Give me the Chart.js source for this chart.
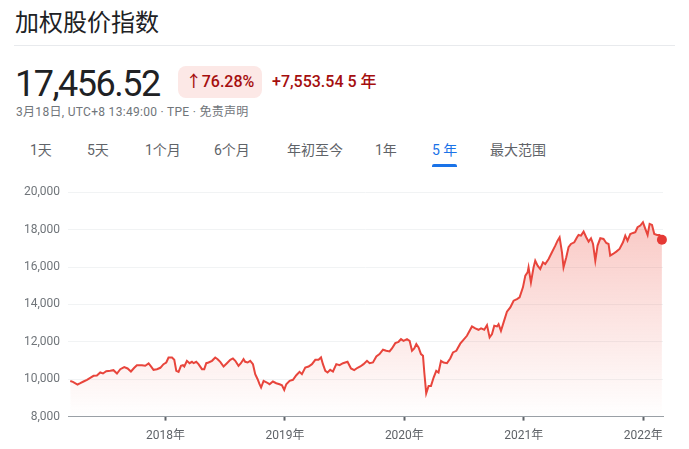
<!DOCTYPE html>
<html>
<head>
<meta charset="utf-8">
<script src="https://cdn.jsdelivr.net/npm/chart.js@4"></script>
<style>
  html, body { margin:0; padding:0; background:#fff; width:689px; height:449px; overflow:hidden; }
  body { font-family: Roboto, "Noto Sans CJK SC", sans-serif; position:relative; }
  .abs { position:absolute; white-space:nowrap; }
  #title { left:15px; top:9px; font-size:24px; line-height:24px; color:#202124; font-family:"Noto Sans CJK SC", sans-serif; }
  #divider { left:14px; top:45px; width:661px; height:1px; background:#e8eaed; }
  #price { left:15px; top:66px; font-size:36px; line-height:36px; color:#202124; letter-spacing:-1.5px; }
  #badge { left:178px; top:66px; width:84px; height:32px; border-radius:8px; background:#fce8e6; color:#a50e0e;
           font-size:16px; line-height:32px; text-align:center; font-weight:500; }
  #change { left:272px; top:72px; font-size:16px; line-height:20px; color:#a50e0e; font-weight:500; }
  #sub { left:16px; top:105px; font-size:12px; line-height:15px; color:#70757a; letter-spacing:0.3px; }
  .tab { top:141px; font-size:14px; line-height:18px; color:#5f6368; }
  .tab.active { color:#1a73e8; }
  #underline { top:164px; height:3px; border-radius:2px 2px 0 0; background:#1a73e8; }
  #wrap { position:absolute; left:0; top:177px; width:689px; height:274px; }
</style>
</head>
<body>
<div id="title" class="abs"></div>
<div id="divider" class="abs"></div>
<div id="price" class="abs"></div>
<div id="badge" class="abs"></div>
<div id="change" class="abs"></div>
<div id="sub" class="abs"></div>
<div id="tabs"></div>
<div id="wrap"><canvas id="c"></canvas></div>
<script>
// ---------- data ----------
const titleText = "加权股价指数";
const priceText = "17,456.52";
const pctText = "↑76.28%";
const changeText = "+7,553.54 5 年";
const subText = "3月18日, UTC+8 13:49:00 · TPE · 免责声明";
const tabLabels = ["1天", "5天", "1个月", "6个月", "年初至今", "1年", "5 年", "最大范围"];
const activeTab = 6;

const xTickYears = [2018, 2019, 2020, 2021, 2022];
const yTickMin = 8000, yTickMax = 20000, yTickStep = 2000;

// decimal-year dates
const dates = [
2017.202,2017.224,2017.263,2017.286,2017.313,2017.342,2017.369,2017.397,2017.425,2017.453,
2017.476,2017.503,2017.537,2017.564,2017.593,2017.621,2017.654,2017.682,2017.710,2017.738,
2017.760,2017.802,2017.830,2017.858,2017.878,2017.899,2017.928,2017.956,2017.983,2018.006,
2018.025,2018.054,2018.073,2018.090,2018.109,2018.129,2018.146,2018.157,2018.179,2018.201,
2018.221,2018.235,2018.257,2018.276,2018.305,2018.324,2018.341,2018.360,2018.389,2018.416,
2018.436,2018.458,2018.486,2018.514,2018.542,2018.564,2018.584,2018.611,2018.631,2018.653,
2018.667,2018.687,2018.709,2018.732,2018.751,2018.771,2018.787,2018.800,2018.821,2018.849,
2018.871,2018.899,2018.927,2018.955,2018.975,2018.994,2019.011,2019.039,2019.067,2019.095,
2019.122,2019.142,2019.170,2019.198,2019.226,2019.254,2019.281,2019.302,2019.318,2019.338,
2019.357,2019.379,2019.402,2019.430,2019.457,2019.486,2019.524,2019.553,2019.580,2019.608,
2019.631,2019.658,2019.687,2019.709,2019.737,2019.765,2019.792,2019.821,2019.848,2019.876,
2019.896,2019.924,2019.951,2019.972,2019.993,2020.022,2020.044,2020.064,2020.083,2020.100,
2020.119,2020.139,2020.156,2020.167,2020.183,2020.203,2020.223,2020.245,2020.267,2020.286,
2020.307,2020.328,2020.357,2020.384,2020.407,2020.435,2020.468,2020.524,2020.566,2020.594,
2020.621,2020.642,2020.669,2020.692,2020.714,2020.734,2020.753,2020.776,2020.789,2020.809,
2020.831,2020.859,2020.887,2020.915,2020.943,2020.965,2020.993,2021.013,2021.032,2021.040,
2021.060,2021.082,2021.096,2021.116,2021.138,2021.161,2021.180,2021.208,2021.236,2021.264,
2021.283,2021.300,2021.320,2021.333,2021.356,2021.375,2021.395,2021.423,2021.446,2021.459,
2021.479,2021.501,2021.523,2021.543,2021.563,2021.580,2021.599,2021.618,2021.641,2021.668,
2021.691,2021.710,2021.724,2021.747,2021.775,2021.802,2021.831,2021.850,2021.869,2021.892,
2021.915,2021.934,2021.953,2021.976,2021.998,2022.018,2022.037,2022.054,2022.074,2022.093,
2022.116,2022.137,2022.157
];
const values = [
9903,9860,9716,9786,9877,9968,10075,10182,10200,10359,
10305,10428,10450,10482,10305,10536,10643,10573,10412,10610,
10750,10750,10718,10841,10680,10500,10536,10610,10804,10894,
11162,11162,11036,10447,10393,10714,10750,10680,10983,10857,
10930,10857,10930,10804,10536,10536,10857,10894,10983,11162,
11071,10930,10680,10857,11036,11108,10983,10714,10857,11071,
10930,10894,10983,10804,10268,10000,9732,9555,9912,9823,
9732,9877,9786,9732,9679,9430,9732,9912,9968,10214,
10393,10268,10627,10680,10804,11036,11036,11162,10804,10447,
10359,10500,10412,10804,10750,10857,10930,10573,10482,10610,
10680,10804,10983,10857,10894,11215,11340,11576,11519,11483,
11643,11929,12000,12143,12054,12143,12054,11519,11643,11875,
11697,11340,11250,10359,9250,9643,9643,10090,10447,10359,
10983,10894,10857,11108,11429,11519,11900,12322,12822,12715,
12643,12715,12643,12893,12234,12411,12857,12822,12947,12590,
13037,13610,13840,14198,14285,14375,14911,15538,15715,15982,
15179,15982,16340,16072,15893,16250,16161,16429,16786,17143,
17411,17590,16786,15982,16518,17054,17232,17322,17590,17715,
17679,17893,17590,17357,17536,17232,16340,17143,17536,17500,
17286,17232,16608,16697,16822,16965,17322,17679,17411,17768,
17822,17857,18125,18215,18393,18036,17715,18304,18250,17768,
17715,17715,17456.52
];
const xMin = 2017.183, xMax = 2022.166;

// ---------- header ----------
document.getElementById('title').textContent = titleText;
document.getElementById('price').textContent = priceText;
document.getElementById('badge').textContent = pctText;
document.getElementById('change').textContent = changeText;
document.getElementById('sub').textContent = subText;
const tabLeft = [30, 87, 145, 214, 287, 375, 432, 490];
const tabs = document.getElementById('tabs');
tabLabels.forEach((t, i) => {
  const d = document.createElement('div');
  d.className = 'abs tab' + (i === activeTab ? ' active' : '');
  d.style.left = tabLeft[i] + 'px';
  d.textContent = t;
  tabs.appendChild(d);
  if (i === activeTab) {
    const u = document.createElement('div');
    u.id = 'underline'; u.className = 'abs';
    u.style.left = tabLeft[i] + 'px';
    u.style.width = '25px';
    tabs.appendChild(u);
  }
});

// ---------- chart ----------
const points = dates.map((d, i) => ({ x: d, y: values[i] }));
const lineColor = '#e8453c';
const FONT = 'Roboto, "Noto Sans CJK SC", sans-serif';

new Chart(document.getElementById('c'), {
  type: 'line',
  data: {
    datasets: [{
      data: points,
      borderColor: lineColor,
      borderWidth: 2,
      tension: 0,
      fill: 'start',
      clip: false,
      backgroundColor: (ctx) => {
        const { chart } = ctx;
        const area = chart.chartArea;
        if (!area) return 'rgba(234,67,53,0.1)';
        const g = chart.ctx.createLinearGradient(0, area.top, 0, area.bottom);
        g.addColorStop(0, 'rgba(234,67,53,0.33)');
        g.addColorStop(1, 'rgba(234,67,53,0)');
        return g;
      },
      pointRadius: (ctx) => ctx.dataIndex === values.length - 1 ? 5 : 0,
      pointBackgroundColor: '#e53935',
      pointBorderWidth: 0,
      pointHoverRadius: 0
    }]
  },
  options: {
    responsive: true,
    maintainAspectRatio: false,
    animation: false,
    devicePixelRatio: 1,
    layout: { padding: { top: 15, right: 26, bottom: 0, left: 0 } },
    plugins: { legend: { display: false }, tooltip: { enabled: false } },
    events: [],
    scales: {
      x: {
        type: 'linear',
        min: xMin, max: xMax,
        afterBuildTicks: (axis) => { axis.ticks = xTickYears.map(v => ({ value: v })); },
        ticks: {
          autoSkip: false,
          maxRotation: 0,
          padding: 8,
          color: '#5f6368',
          font: { family: FONT, size: 12 },
          callback: (v) => v + '年'
        },
        grid: { drawOnChartArea: false, drawTicks: true, tickLength: 4, tickColor: '#5f6368', tickWidth: 2 },
        border: { display: true, color: '#9aa0a6', width: 1 }
      },
      y: {
        min: yTickMin, max: yTickMax,
        afterFit: (scale) => { scale.width = 68; },
        ticks: {
          stepSize: yTickStep,
          padding: 8,
          color: '#70757a',
          font: { family: FONT, size: 12 },
          callback: (v) => v.toLocaleString('en-US')
        },
        grid: {
          drawTicks: false,
          color: (ctx) => ctx.tick && ctx.tick.value === yTickMin ? 'rgba(0,0,0,0)' : '#f1f3f4',
          lineWidth: 1
        },
        border: { display: false }
      }
    }
  }
});
</script>
</body>
</html>
